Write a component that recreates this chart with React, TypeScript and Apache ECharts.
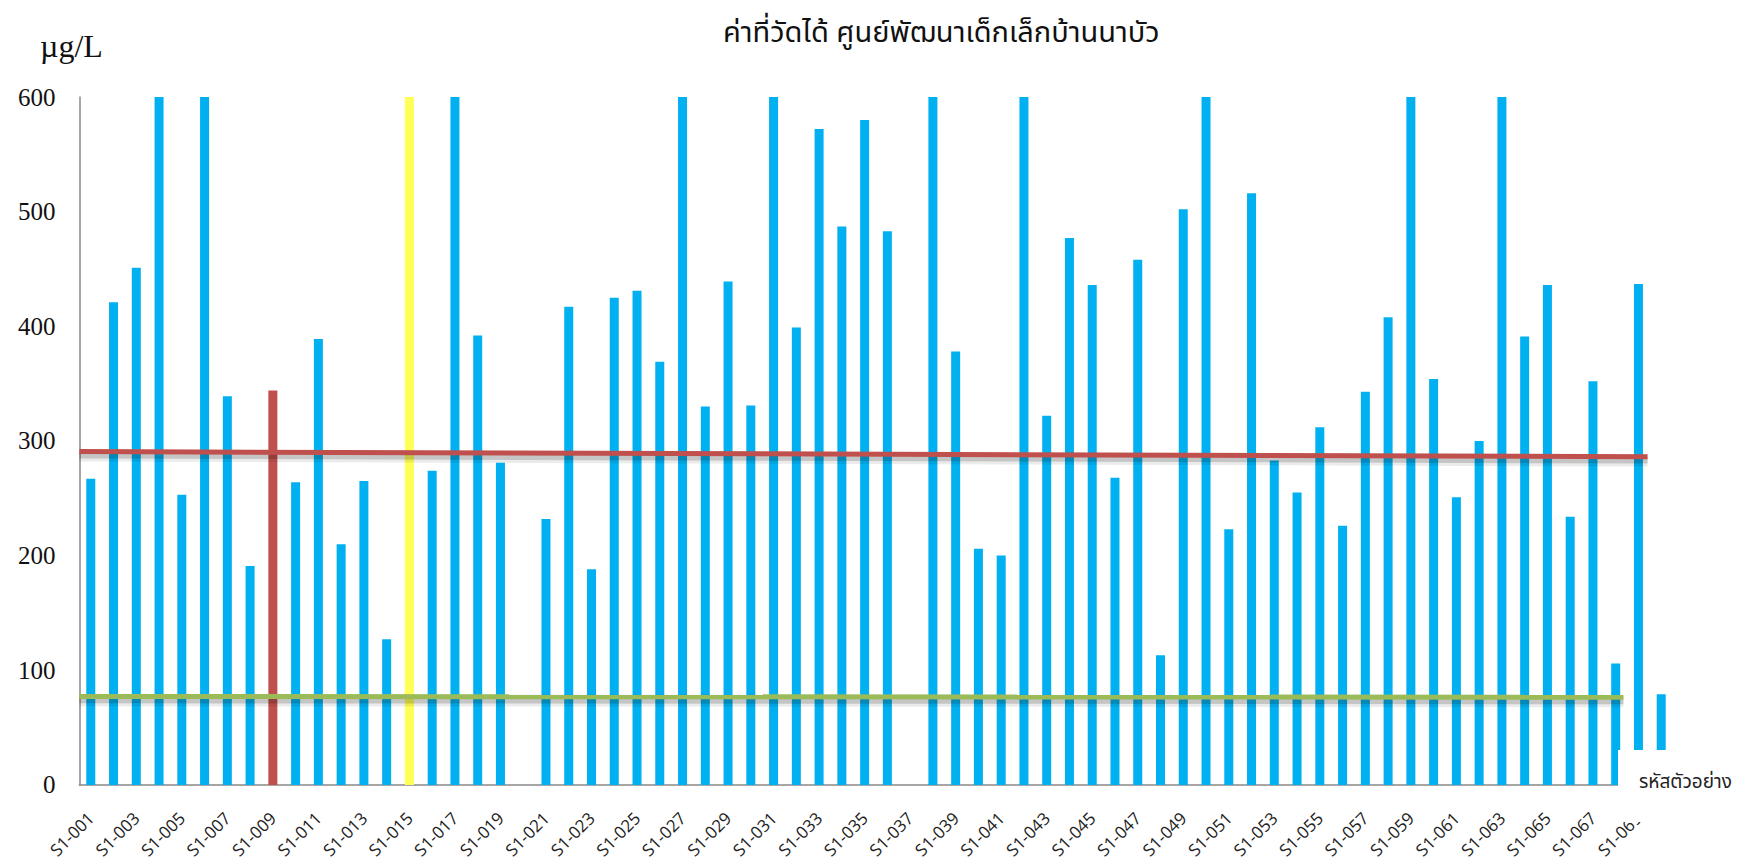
import React, { useEffect, useRef } from "react";
import * as echarts from "echarts";

const titleText = "ค่าที่วัดได้ ศูนย์พัฒนาเด็กเล็กบ้านนาบัว";
const unitText = "µg/L";
const xAxisTitle = "รหัสตัวอย่าง";

const categories = [
  "S1-001", "S1-002", "S1-003", "S1-004", "S1-005", "S1-006", "S1-007", "S1-008", "S1-009", "S1-010",
  "S1-011", "S1-012", "S1-013", "S1-014", "S1-015", "S1-016", "S1-017", "S1-018", "S1-019", "S1-020",
  "S1-021", "S1-022", "S1-023", "S1-024", "S1-025", "S1-026", "S1-027", "S1-028", "S1-029", "S1-030",
  "S1-031", "S1-032", "S1-033", "S1-034", "S1-035", "S1-036", "S1-037", "S1-038", "S1-039", "S1-040",
  "S1-041", "S1-042", "S1-043", "S1-044", "S1-045", "S1-046", "S1-047", "S1-048", "S1-049", "S1-050",
  "S1-051", "S1-052", "S1-053", "S1-054", "S1-055", "S1-056", "S1-057", "S1-058", "S1-059", "S1-060",
  "S1-061", "S1-062", "S1-063", "S1-064", "S1-065", "S1-066", "S1-067", "S1-068", "S1-069", "S1-070",
];

// measured values (µg/L); bars reaching the top are clipped at the axis maximum
const measured: (number | null)[] = [
  267, 421, 451, 600, 253, 600, 339, 191, 344, 264,
  389, 210, 265, 127, 600, 274, 600, 392, 281, null,
  232, 417, 188, 425, 431, 369, 600, 330, 439, 331,
  600, 399, 572, 487, 580, 483, null, 600, 378, 206,
  200, 600, 322, 477, 436, 268, 458, 113, 502, 600,
  223, 516, 283, 255, 312, 226, 343, 408, 600, 354,
  251, 300, 600, 391, 436, 234, 352, 106, 437, 79,
];

const highlightRed = ["S1-009"];
const highlightYellow = ["S1-015"];

// reference lines: [position along category span, value]
const redLine: [number, number][] = [[0, 290.7], [68.9, 286.3]];
const greenLine: [number, number][] = [[0, 77.2], [67.84, 76.4]];

const yTicks = { min: 0, max: 600, interval: 100 };

const BLUE = "#00B0F0";
const RED = "#C0504D";
const YELLOW = "#FFFF55";
const GREEN = "#9BBB59";

export default function App() {
  const ref = useRef<HTMLDivElement>(null);

  useEffect(() => {
    if (!ref.current) return;
    const chart = echarts.init(ref.current, undefined, { renderer: "svg" });

    const barData = categories.map((c, i) => {
      const v = measured[i];
      let color = BLUE;
      if (highlightRed.includes(c)) color = RED;
      if (highlightYellow.includes(c)) color = YELLOW;
      return { value: v, itemStyle: { color } };
    });

    const thaiFont = "'Noto Sans Thai', 'Noto Sans Thai Looped', Tahoma, 'Noto Sans', 'DejaVu Sans', sans-serif";

    // soft drop shadow beneath the reference lines (style effect)
    const shadowDrop = 3.4;
    const dropped = (pts: [number, number][]) => pts.map(([x, y]) => [x, y - shadowDrop]);
    const shadowSeries = (pts: [number, number][]) => [
      {
        type: "line",
        xAxisIndex: 1,
        yAxisIndex: 0,
        data: dropped(pts),
        symbol: "none",
        silent: true,
        z: 3,
        lineStyle: { color: "rgba(0,0,0,0.08)", width: 12 },
      },
      {
        type: "line",
        xAxisIndex: 1,
        yAxisIndex: 0,
        data: dropped(pts),
        symbol: "none",
        silent: true,
        z: 4,
        lineStyle: { color: "rgba(0,0,0,0.16)", width: 6 },
      },
    ];

    chart.setOption({
      animation: false,
      backgroundColor: "#ffffff",
      title: {
        text: titleText,
        left: 718,
        top: 13,
        textStyle: {
          fontFamily: thaiFont,
          fontWeight: "normal",
          fontSize: 29,
          color: "#111",
        },
      },
      grid: {
        left: 79.4,
        right: 65.4,
        top: 97,
        bottom: 72,
        containLabel: false,
      },
      xAxis: [
        {
          type: "category",
          data: categories,
          boundaryGap: true,
          axisLine: { show: true, lineStyle: { color: "#888888", width: 1.5 } },
          axisTick: { show: false },
          axisLabel: {
            interval: 1,
            rotate: 45,
            margin: 30,
            fontFamily: "'Open Sans', 'Noto Sans', sans-serif",
            fontSize: 17,
            color: "#222",
          },
          splitLine: { show: false },
        },
        {
          type: "value",
          min: 0,
          max: categories.length,
          show: false,
          position: "bottom",
        },
      ],
      yAxis: {
        type: "value",
        min: yTicks.min,
        max: yTicks.max,
        interval: yTicks.interval,
        axisLine: { show: true, lineStyle: { color: "#888888", width: 1.5 } },
        axisTick: { show: false },
        splitLine: { show: false },
        axisLabel: {
          margin: 24,
          fontFamily: "'Liberation Serif', 'DejaVu Serif', serif",
          fontSize: 25,
          color: "#111",
        },
      },
      series: [
        {
          type: "bar",
          data: barData,
          barWidth: 9,
          xAxisIndex: 0,
          yAxisIndex: 0,
          z: 2,
        },
        ...shadowSeries(redLine),
        ...shadowSeries(greenLine),
        {
          type: "line",
          xAxisIndex: 1,
          yAxisIndex: 0,
          data: redLine,
          symbol: "none",
          z: 5,
          lineStyle: { color: RED, width: 5 },
        },
        {
          type: "line",
          xAxisIndex: 1,
          yAxisIndex: 0,
          data: greenLine,
          symbol: "none",
          z: 5,
          lineStyle: { color: GREEN, width: 5 },
        },
      ],
      graphic: [
        {
          type: "text",
          x: 40,
          y: 46,
          z: 100,
          style: {
            text: unitText,
            fontFamily: "'Liberation Serif', 'DejaVu Serif', serif",
            fontSize: 32,
            fill: "#111",
            verticalAlign: "middle",
          },
        },
        {
          type: "rect",
          z: 100,
          shape: { x: 1618, y: 750, width: 120, height: 72 },
          style: { fill: "#ffffff" },
        },
        {
          type: "text",
          z: 101,
          x: 1639,
          y: 782,
          style: {
            text: xAxisTitle,
            fontFamily: thaiFont,
            fontSize: 19,
            fill: "#222",
            verticalAlign: "middle",
          },
        },
      ],
    });

    return () => chart.dispose();
  }, []);

  return (
    <div
      ref={ref}
      style={{ position: "fixed", left: 0, top: 0, width: 1738, height: 861, background: "#fff" }}
    />
  );
}
